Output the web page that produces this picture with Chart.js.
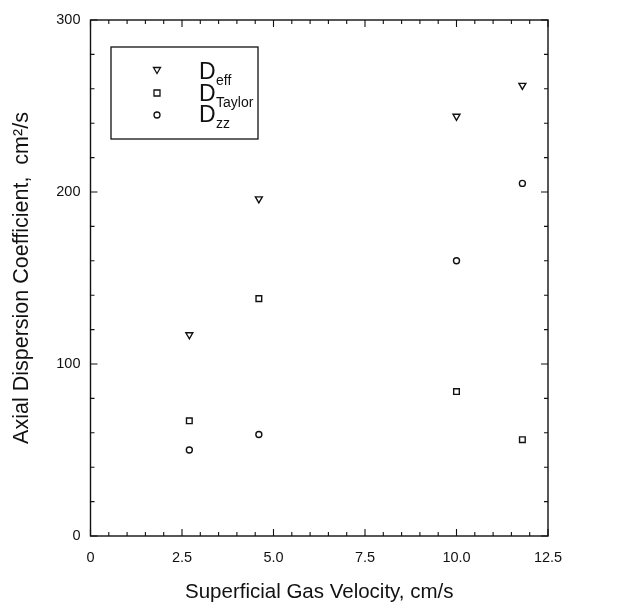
<!DOCTYPE html>
<html>
<head>
<meta charset="utf-8">
<script src="https://cdn.jsdelivr.net/npm/chart.js@4.4.1/dist/chart.umd.min.js"></script>
<style>
  html, body { margin: 0; padding: 0; background: #fff; }
  #wrap { width: 618px; height: 609px; }
</style>
</head>
<body>
<div id="wrap"><canvas id="chart" width="618" height="609"></canvas></div>
<script>
// values
const velocity = [2.7, 4.6, 10.0, 11.8];
const dEff = [117, 196, 244, 262];
const dTaylor = [67, 138, 84, 56];
const dZz = [50, 59, 160, 205];

const xTicks = [0, 2.5, 5.0, 7.5, 10.0, 12.5];
const yTicks = [0, 100, 200, 300];

const FONT = '"Liberation Sans", Arial, Helvetica, sans-serif';

function pts(ys) {
    return velocity.map((v, i) => ({ x: v, y: ys[i] }));
}

// frame, inward ticks on all four sides, and the legend box
const framePlugin = {
    id: 'frame',
    afterDraw(chart) {
        const { ctx, chartArea: a, scales } = chart;
        const xs = scales.x, ys = scales.y;
        ctx.save();
        ctx.strokeStyle = '#111';
        ctx.lineWidth = 1.4;
        ctx.strokeRect(a.left, a.top, a.right - a.left, a.bottom - a.top);

        ctx.lineWidth = 1.1;
        ctx.beginPath();
        for (let v = 0; v <= 12.5001; v += 0.5) {
            const px = xs.getPixelForValue(v);
            const len = Math.abs(v / 2.5 - Math.round(v / 2.5)) < 1e-6 ? 7 : 4;
            ctx.moveTo(px, a.bottom); ctx.lineTo(px, a.bottom - len);
            ctx.moveTo(px, a.top); ctx.lineTo(px, a.top + len);
        }
        for (let v = 0; v <= 300; v += 20) {
            const py = ys.getPixelForValue(v);
            const len = v % 100 === 0 ? 7 : 4;
            ctx.moveTo(a.left, py); ctx.lineTo(a.left + len, py);
            ctx.moveTo(a.right, py); ctx.lineTo(a.right - len, py);
        }
        ctx.stroke();

        // legend
        const lx = 111, ly = 47, lw = 147, lh = 92;
        ctx.lineWidth = 1.3;
        ctx.strokeRect(lx, ly, lw, lh);
        const mx = 157;
        const rows = [
            { y: 70, style: 'triangle', sub: 'eff' },
            { y: 93, style: 'rect', sub: 'Taylor' },
            { y: 115, style: 'circle', sub: 'zz' }
        ];
        ctx.lineWidth = 1.3;
        rows.forEach(r => {
            ctx.beginPath();
            if (r.style === 'triangle') {
                ctx.moveTo(mx - 3.5, r.y - 2.5);
                ctx.lineTo(mx + 3.5, r.y - 2.5);
                ctx.lineTo(mx, r.y + 3.5);
                ctx.closePath();
            } else if (r.style === 'rect') {
                ctx.rect(mx - 3, r.y - 3, 6, 6);
            } else {
                ctx.arc(mx, r.y, 3, 0, Math.PI * 2);
            }
            ctx.stroke();
        });
        ctx.fillStyle = '#111';
        ctx.textBaseline = 'alphabetic';
        ctx.textAlign = 'left';
        const baseD = [79, 101, 122];
        rows.forEach((r, i) => {
            ctx.font = '23px ' + FONT;
            ctx.fillText('D', 199, baseD[i]);
            ctx.font = '14px ' + FONT;
            ctx.fillText(r.sub, 216, baseD[i] + 6);
        });
        ctx.restore();
    }
};

const markerColor = '#111';

new Chart(document.getElementById('chart'), {
    type: 'scatter',
    data: {
        datasets: [
            {
                label: 'Deff',
                data: pts(dEff),
                pointStyle: 'triangle',
                rotation: 180,
                radius: 4,
                borderColor: markerColor,
                backgroundColor: 'rgba(0,0,0,0)',
                borderWidth: 1.4
            },
            {
                label: 'DTaylor',
                data: pts(dTaylor),
                pointStyle: 'rect',
                radius: 4,
                borderColor: markerColor,
                backgroundColor: 'rgba(0,0,0,0)',
                borderWidth: 1.4
            },
            {
                label: 'Dzz',
                data: pts(dZz),
                pointStyle: 'circle',
                radius: 3,
                borderColor: markerColor,
                backgroundColor: 'rgba(0,0,0,0)',
                borderWidth: 1.4
            }
        ]
    },
    options: {
        responsive: false,
        animation: false,
        layout: { padding: { top: 20, right: 70, left: 0, bottom: 0 } },
        plugins: {
            legend: { display: false },
            tooltip: { enabled: false }
        },
        scales: {
            x: {
                type: 'linear',
                min: 0,
                max: 12.5,
                afterBuildTicks: s => { s.ticks = xTicks.map(v => ({ value: v })); },
                afterFit: s => { s.height = 73; },
                grid: { display: false, drawTicks: false },
                border: { display: false },
                ticks: {
                    padding: 13,
                    color: '#111',
                    font: { family: FONT, size: 14.5 },
                    callback: v => v === 0 ? '0' : v.toFixed(1)
                },
                title: {
                    display: true,
                    text: 'Superficial Gas Velocity, cm/s',
                    color: '#111',
                    font: { family: FONT, size: 20.5 },
                    padding: { top: 0, bottom: 4 }
                }
            },
            y: {
                type: 'linear',
                min: 0,
                max: 300,
                afterBuildTicks: s => { s.ticks = yTicks.map(v => ({ value: v })); },
                afterFit: s => { s.width = 90.5; },
                grid: { display: false, drawTicks: false },
                border: { display: false },
                ticks: {
                    padding: 10,
                    color: '#111',
                    font: { family: FONT, size: 14.5 }
                },
                title: {
                    display: true,
                    text: 'Axial Dispersion Coefficient,  cm\u00b2/s',
                    color: '#111',
                    font: { family: FONT, size: 21.5 },
                    padding: { top: 9, bottom: 0 }
                }
            }
        }
    },
    plugins: [framePlugin]
});
</script>
</body>
</html>
